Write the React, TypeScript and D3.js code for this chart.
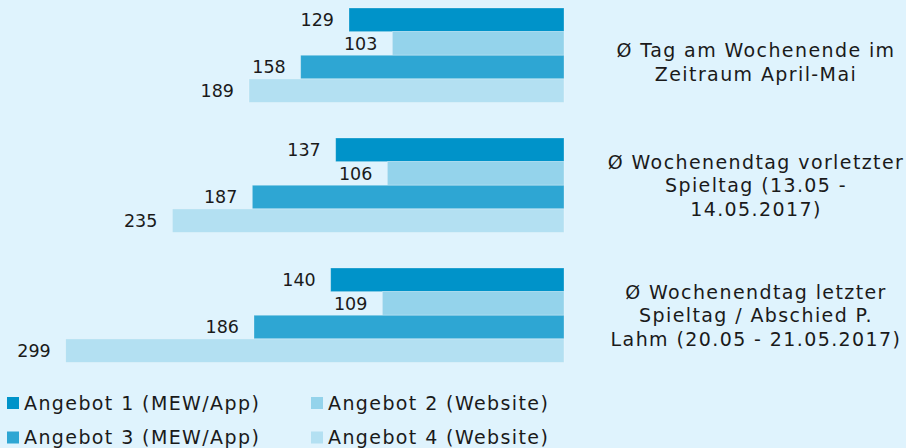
import React, { useEffect, useRef } from 'react';
import * as d3 from 'd3';

const categories = [
  ['Ø Tag am Wochenende im', 'Zeitraum April-Mai'],
  ['Ø Wochenendtag vorletzter', 'Spieltag (13.05 -', '14.05.2017)'],
  ['Ø Wochenendtag letzter', 'Spieltag / Abschied P.', 'Lahm (20.05 - 21.05.2017)'],
];
const seriesNames = ['Angebot 1 (MEW/App)', 'Angebot 2 (Website)', 'Angebot 3 (MEW/App)', 'Angebot 4 (Website)'];
const angebot1 = [129, 137, 140];
const angebot2 = [103, 106, 109];
const angebot3 = [158, 187, 186];
const angebot4 = [189, 235, 299];
const colors = ['#0093c9', '#94d3eb', '#2ea6d3', '#b3e0f2'];

function App() {
  const ref = useRef<SVGSVGElement>(null);

  useEffect(() => {
    document.body.style.margin = '0';
    const width = 906, height = 448;
    const svg = d3.select(ref.current);
    svg.selectAll('*').remove();

    svg.append('rect')
      .attr('width', width)
      .attr('height', height)
      .attr('fill', '#dff3fd');

    const values = [angebot1, angebot2, angebot3, angebot4];
    const x = d3.scaleLinear().domain([0, 300]).range([564, 64]);
    const y = d3.scaleBand<number>()
      .domain(d3.range(categories.length))
      .range([8, 362.5])
      .paddingInner(0.273);
    const ys = d3.scaleBand<number>()
      .domain(d3.range(seriesNames.length))
      .range([0, y.bandwidth()]);

    const groups = svg.append('g')
      .selectAll('g')
      .data(categories)
      .join('g')
      .attr('transform', (d, i) => `translate(0,${y(i)})`);

    groups.each(function (_, ci) {
      const g = d3.select(this);
      const rows = values.map((s, si) => ({ si, v: s[ci] }));
      g.selectAll('rect')
        .data(rows)
        .join('rect')
        .attr('x', d => x(d.v))
        .attr('y', d => ys(d.si)!)
        .attr('width', d => x(0) - x(d.v))
        .attr('height', ys.bandwidth())
        .attr('fill', d => colors[d.si])
        .attr('stroke', 'rgba(255,255,255,0.35)')
        .attr('stroke-width', 0.8);
      g.selectAll('text.val')
        .data(rows)
        .join('text')
        .attr('class', 'val')
        .attr('x', d => x(d.v) - 15)
        .attr('y', d => ys(d.si)! + ys.bandwidth() / 2)
        .attr('dy', '0.36em')
        .attr('text-anchor', 'end')
        .attr('fill', '#1a1a1a')
        .style('font-family', '"DejaVu Sans", Verdana, sans-serif')
        .style('font-size', '17.5px')
        .text(d => d.v);
    });

    // category labels on the right
    const lineH = 23.5;
    groups.append('text')
      .attr('text-anchor', 'middle')
      .attr('fill', '#1a1a1a')
      .style('font-family', '"DejaVu Sans", Verdana, sans-serif')
      .style('font-size', '19px')
      .style('letter-spacing', '1.4px')
      .each(function (lines, ci) {
        const t = d3.select(this);
        // first label sits a little lower in the original
        const shift = ci === 0 ? 7 : 0;
        const top = y.bandwidth() / 2 - ((lines.length - 1) * lineH) / 2 + shift;
        lines.forEach((l, li) => {
          t.append('tspan')
            .attr('x', 756)
            .attr('y', top + li * lineH)
            .attr('dy', '0.36em')
            .text(l);
        });
      });

    // legend
    const legend = svg.append('g')
      .selectAll('g')
      .data(seriesNames)
      .join('g')
      .attr('transform', (d, i) => `translate(${(i % 2) * 304 + 7},${Math.floor(i / 2) * 34.5 + 397})`);
    legend.append('rect')
      .attr('width', 12)
      .attr('height', 12)
      .attr('fill', (d, i) => colors[i]);
    legend.append('text')
      .attr('x', 17)
      .attr('y', 6)
      .attr('dy', '0.36em')
      .attr('fill', '#1a1a1a')
      .style('font-family', '"DejaVu Sans", Verdana, sans-serif')
      .style('font-size', '19px')
      .style('letter-spacing', '1.4px')
      .text(d => d);
  }, []);

  return <svg ref={ref} width={906} height={448} style={{ display: 'block' }} />;
}

export default App;
